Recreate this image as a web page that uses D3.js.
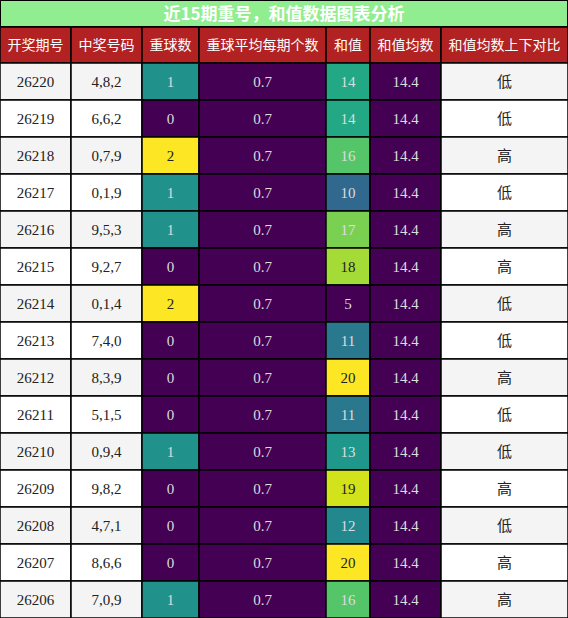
<!DOCTYPE html>
<html><head><meta charset="utf-8">
<script src="https://cdn.jsdelivr.net/npm/d3@7"></script>
<style>body{margin:0;background:#fff}</style>
</head><body><svg id="c" width="568" height="618"></svg>
<script>
// data
var periods = ['26220','26219','26218','26217','26216','26215','26214','26213','26212','26211','26210','26209','26208','26207','26206'];
var numbers = ['4,8,2','6,6,2','0,7,9','0,1,9','9,5,3','9,2,7','0,1,4','7,4,0','8,3,9','5,1,5','0,9,4','9,8,2','4,7,1','8,6,6','7,0,9'];
var repeats = [1,0,2,1,1,0,2,0,0,0,1,0,0,0,1];
var repeatAvg = 0.7;
var sums = [14,14,16,10,17,18,5,11,20,11,13,19,12,20,16];
var sumAvg = 14.4;
var headers = ['开奖期号','中奖号码','重球数','重球平均每期个数','和值','和值均数','和值均数上下对比'];

var svg = d3.select('#c');
var colEdges = [0,71,142,199,326,370,441,568];
var titleH = 27, headH = 36, rowH = 37;
var y = d3.scaleBand().domain(d3.range(periods.length)).range([titleH + headH, titleH + headH + rowH * periods.length]);
var repColor = d3.scaleSequential(d3.interpolateViridis).domain([0, 2]);
var sumColor = d3.scaleSequential(d3.interpolateViridis).domain([5, 20]);
var cjk = '"Noto Sans CJK SC", sans-serif';
var serif = '"Liberation Serif", "DejaVu Serif", serif';

// title
svg.append('rect').attr('x',0).attr('y',0).attr('width',568).attr('height',titleH)
  .attr('fill','#90ee90').attr('stroke','#000').attr('stroke-width',2);
svg.append('text').attr('x',284).attr('y',20).attr('text-anchor','middle')
  .attr('fill','#fff').attr('font-weight','bold').attr('font-size',17).attr('font-family',cjk)
  .text('近15期重号，和值数据图表分析');

// header
headers.forEach(function(h, i) {
  svg.append('rect').attr('x',colEdges[i]).attr('y',titleH).attr('width',colEdges[i+1]-colEdges[i]).attr('height',headH)
    .attr('fill','#b22222').attr('stroke','#000').attr('stroke-width',1.5);
  svg.append('text').attr('x',(colEdges[i]+colEdges[i+1])/2).attr('y',titleH + headH/2 + 5)
    .attr('text-anchor','middle').attr('fill','#fff').attr('font-size',14).attr('font-family',cjk).text(h);
});

function lum(c) { var r = d3.rgb(c); return 0.299*r.r + 0.587*r.g + 0.114*r.b; }

periods.forEach(function(p, r) {
  var base = r % 2 === 0 ? '#f4f4f4' : '#ffffff';
  var cells = [
    {t: p, bg: base, dark: true, f: serif},
    {t: numbers[r], bg: base, dark: true, f: serif},
    {t: repeats[r], bg: repColor(repeats[r]), f: serif},
    {t: repeatAvg, bg: '#440154', f: serif},
    {t: sums[r], bg: sumColor(sums[r]), f: serif},
    {t: sumAvg, bg: '#440154', f: serif},
    {t: sums[r] > sumAvg ? '高' : '低', bg: base, dark: true, f: cjk}
  ];
  cells.forEach(function(c, i) {
    var yy = y(r);
    svg.append('rect').attr('x',colEdges[i]).attr('y',yy).attr('width',colEdges[i+1]-colEdges[i]).attr('height',rowH)
      .attr('fill',c.bg).attr('stroke','#000').attr('stroke-width',1.5);
    var fill = c.dark || lum(c.bg) > 180 ? '#222' : '#ddd';
    svg.append('text').attr('x',(colEdges[i]+colEdges[i+1])/2).attr('y',yy + rowH/2 + 5)
      .attr('text-anchor','middle').attr('fill',fill).attr('font-size',15).attr('font-family',c.f).text(c.t);
  });
});
</script></body></html>
